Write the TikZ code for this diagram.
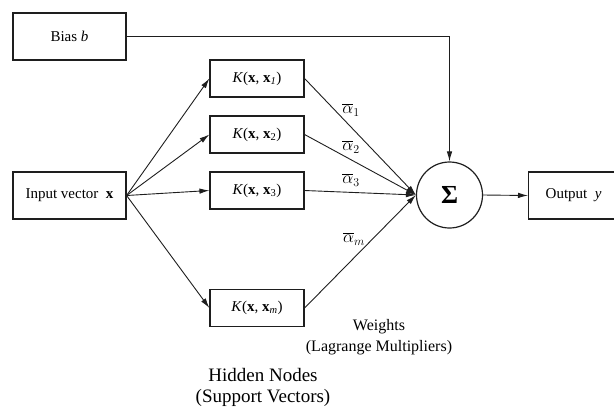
\documentclass[tikz,border=0pt]{standalone}
\usepackage{fontspec}
\setmainfont{Liberation Serif}
\usetikzlibrary{arrows.meta}
\definecolor{ink}{HTML}{1E1E1E}
\begin{document}
\begin{tikzpicture}[x=1pt,y=-1pt,
  box/.style={draw=ink, line width=1.2pt, inner sep=0pt, minimum height=47pt, font=\fontsize{15}{17}\selectfont},
  kbox/.style={draw=ink, line width=1.2pt, inner sep=0pt, minimum width=94pt, minimum height=37pt, font=\fontsize{15}{17}\selectfont},
  arr/.style={draw=ink, line width=0.9pt, -{Latex[length=10pt,width=5.5pt]}},
  wlbl/.style={font=\fontsize{18}{20}\selectfont, inner sep=0pt},
  captext/.style={align=center, inner sep=0pt}]
\useasboundingbox (0,0) rectangle (614,408);
\clip (0,0) rectangle (614,408);
\node[box, minimum width=113pt] (bias) at (69.5,36.5) {Bias \textit{b}};
\node[box, minimum width=113pt] (inp) at (69.5,195.5) {Input vector\ \ \textbf{x}};
\node[kbox] (k1) at (257,78.5) {\textit{K}(\textbf{x}, \textbf{x}\textsubscript{\textit{1}})};
\node[kbox] (k2) at (257,134.5) {\textit{K}(\textbf{x}, \textbf{x}\textsubscript{2})};
\node[kbox] (k3) at (257,190.5) {\textit{K}(\textbf{x}, \textbf{x}\textsubscript{3})};
\node[kbox] (km) at (257,308) {\textit{K}(\textbf{x}, \textbf{x}\textsubscript{\textit{m}})};
\node[draw=ink, line width=1.2pt, circle, minimum size=66pt, inner sep=0pt, font=\fontsize{26}{28}\selectfont\bfseries] (sig) at (449.5,195) {Σ};
\node[box, minimum width=104pt, anchor=west] (out) at (528,195.5) {\hspace{-14pt}Output\ \ \textit{y}};
\node[wlbl] (a1) at (351,110) {$\overline{\alpha}_1$};
\node[wlbl] (a2) at (351,147) {$\overline{\alpha}_2$};
\node[wlbl] (a3) at (351,180) {$\overline{\alpha}_3$};
\node[wlbl] (am) at (354,239) {$\overline{\alpha}_m$};
\node[captext, font=\fontsize{16}{21}\selectfont] (w) at (379,337) {Weights\\(Lagrange Multipliers)};
\node[captext, font=\fontsize{19}{21}\selectfont] (h) at (263,387) {Hidden Nodes\\(Support Vectors)};
\foreach \k in {k1,k2,k3,km} {
  \draw[arr] (inp.east) -- (\k.west);
  \draw[arr] (\k.east) -- (sig.west);
}
\draw[arr] (bias.east) -| (sig.north);
\draw[arr] (sig.east) -- (out.west);
\end{tikzpicture}
\end{document}
